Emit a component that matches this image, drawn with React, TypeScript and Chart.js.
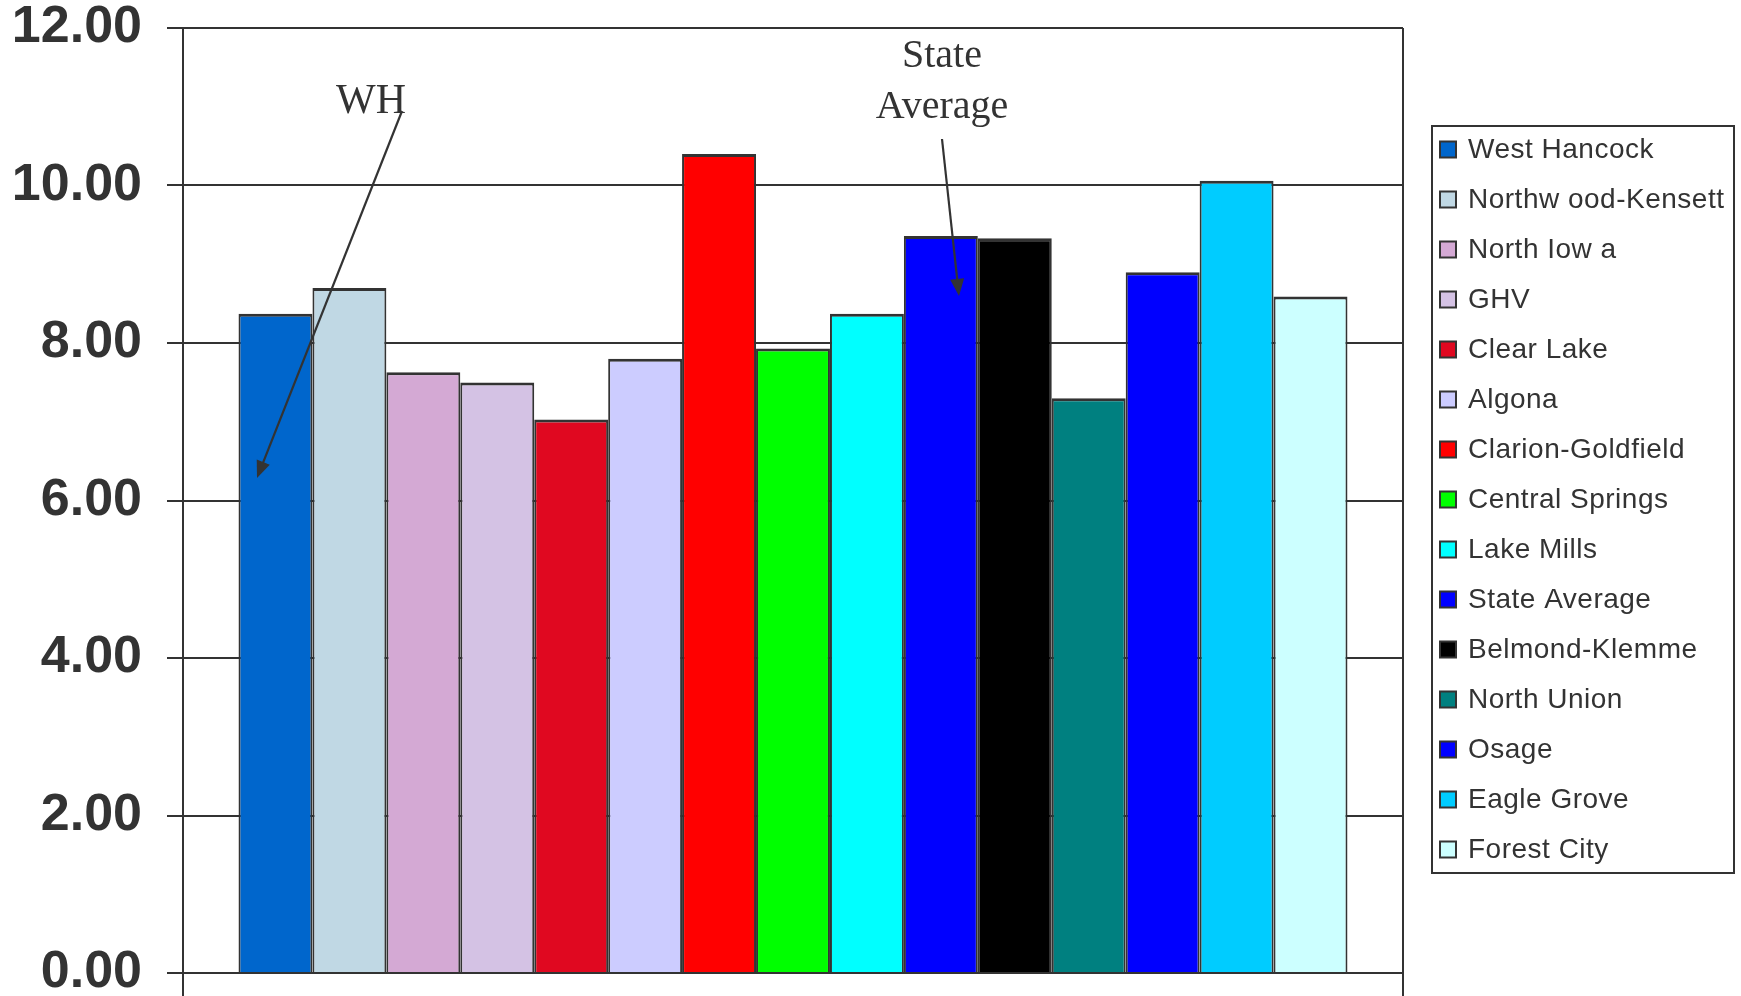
import React, { useEffect, useRef } from "react";
import { Chart, registerables } from "chart.js";

Chart.register(...registerables);

const schools = [
  "West Hancock",
  "Northw ood-Kensett",
  "North Iow a",
  "GHV",
  "Clear Lake",
  "Algona",
  "Clarion-Goldfield",
  "Central Springs",
  "Lake Mills",
  "State Average",
  "Belmond-Klemme",
  "North Union",
  "Osage",
  "Eagle Grove",
  "Forest City",
];

const values = [8.37, 8.7, 7.63, 7.5, 7.03, 7.8, 10.4, 7.93, 8.37, 9.36, 9.33, 7.3, 8.9, 10.06, 8.59];

const colors = [
  "#0066CC",
  "#C0D8E4",
  "#D4A9D4",
  "#D4C2E4",
  "#E00820",
  "#CCCCFF",
  "#FF0000",
  "#00FF00",
  "#00FFFF",
  "#0000FF",
  "#000000",
  "#008080",
  "#0000FF",
  "#00CCFF",
  "#CCFFFF",
];

const yTicks = [0, 2, 4, 6, 8, 10, 12];

const INK = "#333333";

function drawArrow(ctx: CanvasRenderingContext2D, x1: number, y1: number, x2: number, y2: number) {
  const ang = Math.atan2(y2 - y1, x2 - x1);
  const len = 17;
  const hw = 7;
  ctx.beginPath();
  ctx.moveTo(x1, y1);
  ctx.lineTo(x2 - Math.cos(ang) * len * 0.8, y2 - Math.sin(ang) * len * 0.8);
  ctx.lineWidth = 2.2;
  ctx.strokeStyle = INK;
  ctx.stroke();
  const bx = x2 - Math.cos(ang) * len;
  const by = y2 - Math.sin(ang) * len;
  ctx.beginPath();
  ctx.moveTo(x2, y2);
  ctx.lineTo(bx + Math.sin(ang) * hw, by - Math.cos(ang) * hw);
  ctx.lineTo(bx - Math.sin(ang) * hw, by + Math.cos(ang) * hw);
  ctx.closePath();
  ctx.fillStyle = INK;
  ctx.fill();
}

const annotationPlugin = {
  id: "annotations",
  afterDatasetsDraw(chart: any) {
    const ctx: CanvasRenderingContext2D = chart.ctx;
    ctx.save();
    ctx.fillStyle = INK;
    ctx.font = '42px "Liberation Serif", "Times New Roman", serif';
    ctx.textAlign = "center";
    ctx.textBaseline = "alphabetic";
    ctx.fillText("WH", 371, 113);
    ctx.font = '40px "Liberation Serif", "Times New Roman", serif';
    ctx.fillText("State", 942, 67);
    ctx.fillText("Average", 942, 118);
    drawArrow(ctx, 402, 111, 257, 478);
    drawArrow(ctx, 942, 139, 959, 296);
    ctx.restore();
  },
};

const legendPlugin = {
  id: "boxLegend",
  afterDraw(chart: any) {
    const ctx: CanvasRenderingContext2D = chart.ctx;
    ctx.save();
    ctx.strokeStyle = INK;
    ctx.lineWidth = 2;
    ctx.fillStyle = "#ffffff";
    ctx.fillRect(1432, 126, 302, 747);
    ctx.strokeRect(1432, 126, 302, 747);
    chart.data.datasets.forEach((ds: any, i: number) => {
      const cy = 149.5 + i * 50;
      ctx.fillStyle = ds.backgroundColor;
      ctx.fillRect(1440, cy - 8, 16, 16);
      ctx.lineWidth = 2;
      ctx.strokeStyle = INK;
      ctx.strokeRect(1440, cy - 8, 16, 16);
      ctx.fillStyle = INK;
      ctx.font = '28px "Liberation Sans", Arial, sans-serif';
      (ctx as any).letterSpacing = "0.5px";
      ctx.textAlign = "left";
      ctx.textBaseline = "middle";
      ctx.fillText(ds.label, 1468, cy + 1);
    });
    ctx.restore();
  },
};

export default function App() {
  const ref = useRef<HTMLCanvasElement | null>(null);

  useEffect(() => {
    if (!ref.current) return;
    const chart = new Chart(ref.current, {
      type: "bar",
      data: {
        labels: [""],
        datasets: schools.map((s, i) => ({
          label: s,
          data: [values[i]],
          backgroundColor: colors[i],
          borderColor: INK,
          borderWidth: { top: 3, left: 2, right: 2, bottom: 0 },
          categoryPercentage: 0.909,
          barPercentage: 1,
        })),
      },
      options: {
        responsive: false,
        animation: false,
        devicePixelRatio: 1,
        layout: { padding: { left: 0, right: 338, top: 28, bottom: 0 } },
        plugins: {
          legend: { display: false },
          tooltip: { enabled: false },
        },
        scales: {
          x: {
            type: "category",
            offset: true,
            grid: {
              offset: true,
              color: INK,
              lineWidth: 2,
              tickLength: 23,
              drawOnChartArea: true,
            },
            border: { display: true, color: INK, width: 2 },
            ticks: { display: false },
            afterFit: (s: any) => {
              s.height = 23;
              s.paddingLeft = 0;
              s.paddingRight = 0;
            },
          },
          y: {
            min: yTicks[0],
            max: yTicks[yTicks.length - 1],
            afterBuildTicks: (s: any) => {
              s.ticks = yTicks.map((v) => ({ value: v }));
            },
            ticks: {
              callback: (v: any) => Number(v).toFixed(2),
              color: INK,
              padding: 25,
              font: {
                family: '"Liberation Sans", Arial, sans-serif',
                size: 52,
                weight: "bold",
                lineHeight: 1,
              },
            },
            grid: { color: INK, lineWidth: 2, tickLength: 16 },
            border: { display: true, color: INK, width: 2 },
            afterFit: (s: any) => {
              s.width = 183;
              s.paddingTop = 0;
              s.paddingBottom = 0;
            },
          },
        },
      } as any,
      plugins: [annotationPlugin, legendPlugin],
    });
    return () => chart.destroy();
  }, []);

  return (
    <div style={{ position: "absolute", left: 0, top: 0, width: 1741, height: 996, background: "#fff" }}>
      <canvas ref={ref} width={1741} height={996} style={{ display: "block" }} />
    </div>
  );
}
